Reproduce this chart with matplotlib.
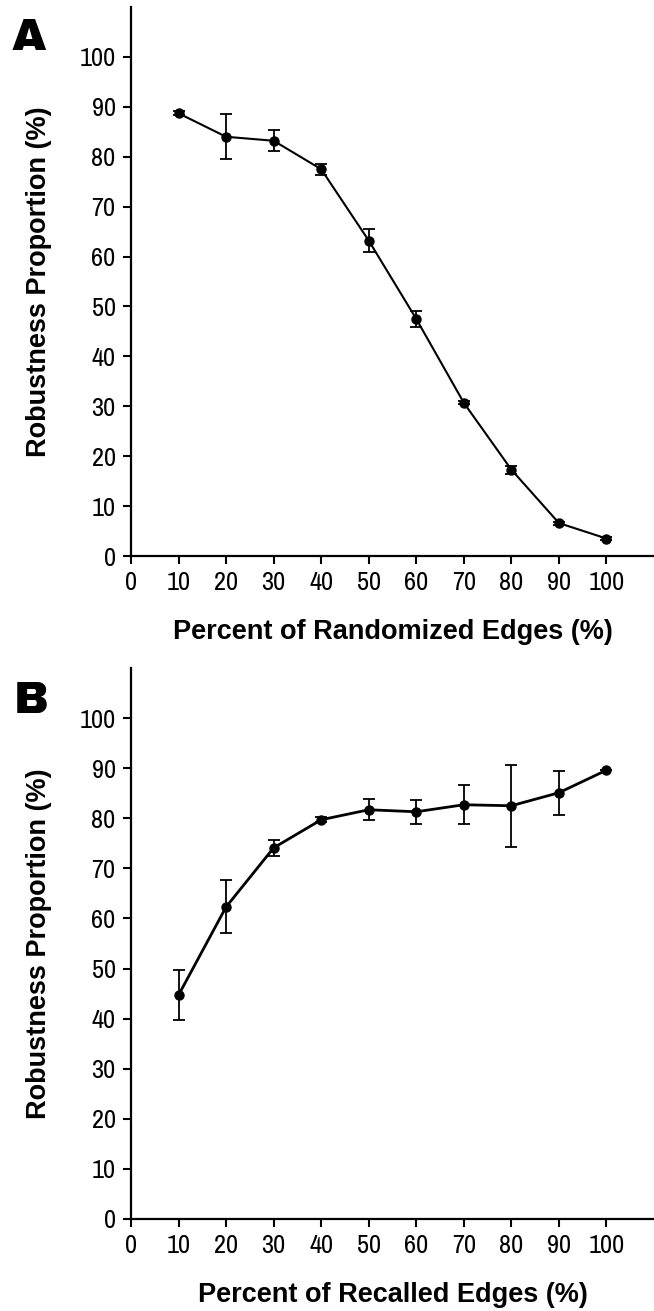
import matplotlib
matplotlib.use("Agg")
import matplotlib.pyplot as plt

plt.rcParams['font.family'] = ['Archivo Narrow', 'Liberation Sans', 'DejaVu Sans']
label_font = ['Liberation Sans', 'DejaVu Sans']

x_pct = [10, 20, 30, 40, 50, 60, 70, 80, 90, 100]

# panel A: randomized edges
rand_mean = [88.7, 84.0, 83.2, 77.5, 63.2, 47.5, 30.7, 17.3, 6.6, 3.5]
rand_err = [0.4, 4.5, 2.1, 1.1, 2.3, 1.6, 0.3, 0.8, 0.3, 0.3]

# panel B: recalled edges
recall_mean = [44.7, 62.3, 74.1, 79.7, 81.7, 81.3, 82.7, 82.5, 85.1, 89.6]
recall_err = [5.0, 5.3, 1.6, 0.5, 2.1, 2.4, 3.9, 8.2, 4.4, 0.0]

xticks = [0, 10, 20, 30, 40, 50, 60, 70, 80, 90, 100]
yticks = [0, 10, 20, 30, 40, 50, 60, 70, 80, 90, 100]

fig = plt.figure(figsize=(6.54, 13.11), dpi=100)
axA = fig.add_axes([131 / 654, 1 - 556 / 1311, 523 / 654, 549 / 1311])
axB = fig.add_axes([131 / 654, 1 - 1219 / 1311, 523 / 654, 551 / 1311])

panels = [
    (axA, rand_mean, rand_err, 'Percent of Randomized Edges (%)', 1.5),
    (axB, recall_mean, recall_err, 'Percent of Recalled Edges (%)', 2.0),
]

for ax, mean, err, xlab, lw in panels:
    ax.errorbar(x_pct, mean, yerr=err, color='black', lw=lw, marker='o',
                markersize=6.5, capsize=4.5, elinewidth=1.3, capthick=1.3)
    ax.set_xlim(0, 110)
    ax.set_ylim(0, 110)
    ax.set_xticks(xticks)
    ax.set_yticks(yticks)
    for side in ['top', 'right']:
        ax.spines[side].set_visible(False)
    for side in ['left', 'bottom']:
        ax.spines[side].set_linewidth(1.6)
    ax.tick_params(direction='out', length=6, width=1.5, labelsize=19, pad=5)
    ax.set_xlabel(xlab, fontsize=19.5, fontweight='bold', family=label_font, labelpad=18)
    ax.set_ylabel('Robustness Proportion (%)', fontsize=19.5, fontweight='bold',
                  family=label_font, labelpad=20)

fig.text(12 / 654, 1 - 50 / 1311, 'A', fontsize=32, family=['Archivo Black', 'DejaVu Sans'],
         ha='left', va='baseline')
fig.text(14 / 654, 1 - 713 / 1311, 'B', fontsize=32, family=['Archivo Black', 'DejaVu Sans'],
         ha='left', va='baseline')

fig.savefig('out.png', dpi=100)
